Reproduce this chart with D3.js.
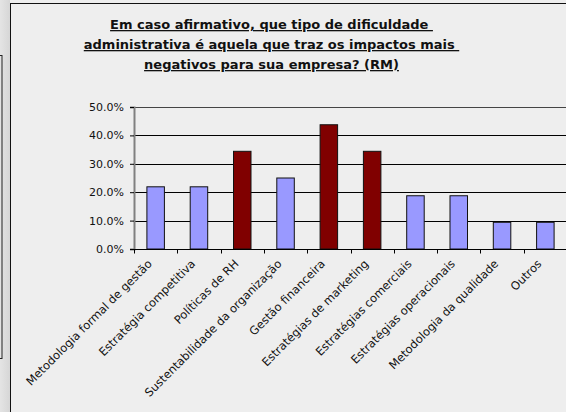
<!DOCTYPE html>
<html>
<head>
<meta charset="utf-8">
<script src="https://cdn.jsdelivr.net/npm/d3@7"></script>
<style>
  body { margin: 0; background: #eeeeee; }
  svg { display: block; font-family: "DejaVu Sans", Verdana, sans-serif; }
</style>
</head>
<body>
<div id="chart"></div>
<script>
const categories = [
  "Metodologia formal de gestão", "Estratégia competitiva", "Políticas de RH",
  "Sustentabilidade da organização", "Gestão financeira", "Estratégias de marketing",
  "Estratégias comerciais", "Estratégias operacionais", "Metodologia da qualidade", "Outros"
];
const values = [0.219, 0.219, 0.344, 0.25, 0.4375, 0.344, 0.1875, 0.1875, 0.094, 0.094];
const highlighted = [false, false, true, false, true, true, false, false, false, false];
const yTicks = [0, 0.1, 0.2, 0.3, 0.4, 0.5];
const titleLines = [
  "Em caso afirmativo, que tipo de dificuldade ",
  "administrativa é aquela que traz os impactos mais ",
  "negativos para sua empresa? (RM)"
];

const W = 566, H = 412;
const dim = {left: 134, right: 567, top: 107, bottom: 249};

const svg = d3.select("#chart").append("svg")
  .attr("width", W).attr("height", H);

// left panel remnant
const grad = svg.append("defs").append("linearGradient").attr("id", "side")
  .attr("x1", 0).attr("x2", 1);
grad.append("stop").attr("offset", 0).attr("stop-color", "#e4e4e4");
grad.append("stop").attr("offset", 1).attr("stop-color", "#d6d6d6");
svg.append("rect").attr("x", 0).attr("y", 0).attr("width", 10).attr("height", H)
  .attr("fill", "url(#side)");
svg.append("rect").attr("x", -5).attr("y", 55.5).attr("width", 7).attr("height", 303)
  .attr("fill", "none").attr("stroke", "#222");

// chart frame
svg.append("rect").attr("x", 10.5).attr("y", 3.5).attr("width", W).attr("height", H)
  .attr("fill", "#eeeeee").attr("stroke", "#111");

// title
const title = svg.append("text")
  .attr("text-anchor", "middle")
  .attr("font-weight", "bold")
  .attr("font-size", 13)
  .attr("text-decoration", "underline")
  .attr("fill", "#111");
titleLines.forEach((t, i) => {
  title.append("tspan").attr("x", 271.5).attr("y", 29 + i * 20)
    .style("white-space", "pre").text(t);
});

const x = d3.scaleBand().domain(categories).range([dim.left, dim.right]);
const y = d3.scaleLinear().domain([0, 0.5]).range([dim.bottom, dim.top]);

// gridlines
svg.append("g").selectAll("line")
  .data(yTicks.filter(d => d > 0))
  .join("line")
    .attr("x1", dim.left).attr("x2", dim.right)
    .attr("y1", d => Math.round(y(d)) + 0.5).attr("y2", d => Math.round(y(d)) + 0.5)
    .attr("stroke", d => d === 0.5 ? "#444" : "#000");

// bars
const bw = 17.5;
svg.append("g").selectAll("rect")
  .data(values)
  .join("rect")
    .attr("x", (d, i) => x(categories[i]) + x.bandwidth() / 2 - bw / 2)
    .attr("y", d => y(d))
    .attr("width", bw)
    .attr("height", d => y(0) - y(d))
    .attr("fill", (d, i) => highlighted[i] ? "#800000" : "#9999ff")
    .attr("stroke", "#111")
    .attr("stroke-width", 1);

// y axis
const yAxis = svg.append("g")
  .attr("transform", `translate(${dim.left},0)`)
  .call(d3.axisLeft(y).tickValues(yTicks).tickFormat(d3.format(".1%"))
    .tickSize(4).tickPadding(6));
yAxis.select(".domain").attr("stroke", "#808080").attr("stroke-width", 2);
yAxis.selectAll("text").attr("font-size", 11).attr("fill", "#111")
  .attr("font-family", "DejaVu Sans");

// x axis
const xAxis = svg.append("g")
  .attr("transform", `translate(0,${dim.bottom + 0.5})`);
xAxis.append("line").attr("x1", dim.left).attr("x2", dim.right)
  .attr("stroke", "#000");
xAxis.selectAll("line.tick")
  .data(categories)
  .join("line")
    .attr("class", "tick")
    .attr("x1", d => Math.round(x(d)) + 0.5).attr("x2", d => Math.round(x(d)) + 0.5)
    .attr("y1", 0).attr("y2", 4)
    .attr("stroke", "#000");
xAxis.selectAll("text")
  .data(categories)
  .join("text")
    .attr("transform", d => `translate(${x(d) + x.bandwidth() / 2 - 3},${15}) rotate(-45)`)
    .attr("text-anchor", "end")
    .attr("font-size", 11.5)
    .attr("fill", "#111")
    .text(d => d);
</script>
</body>
</html>
